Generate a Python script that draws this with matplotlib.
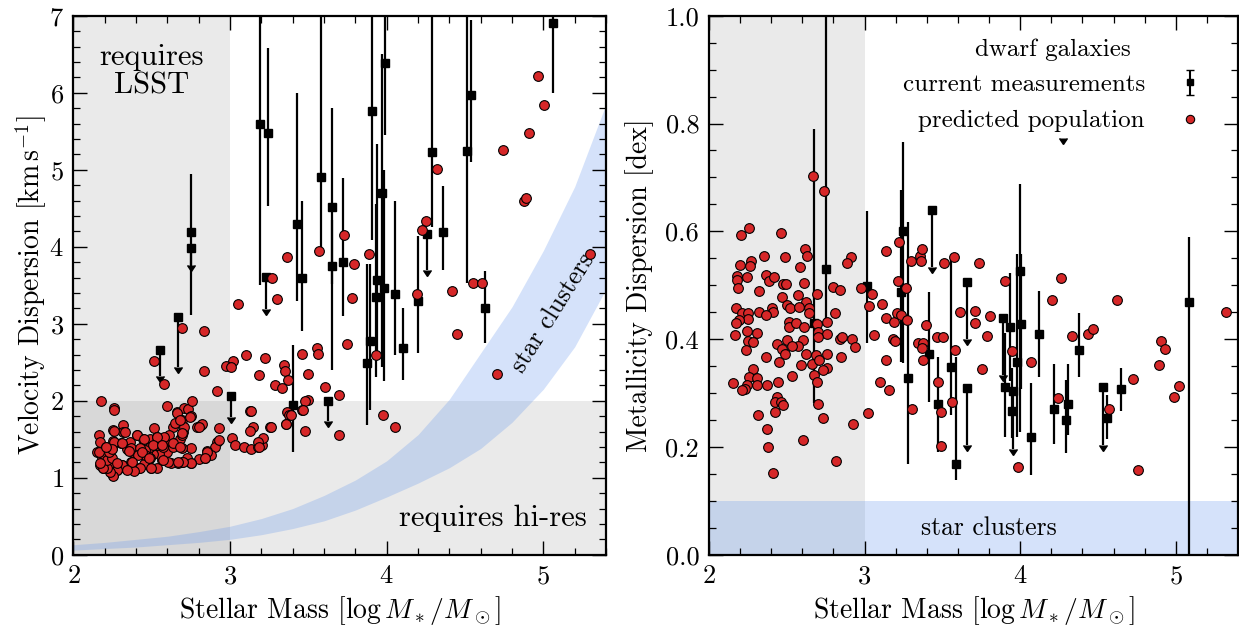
import numpy as np
import matplotlib
matplotlib.use("Agg")
import matplotlib.pyplot as plt

plt.rcParams['font.family'] = ['cmr10', 'DejaVu Serif']
plt.rcParams['mathtext.fontset'] = 'cm'
plt.rcParams['axes.formatter.use_mathtext'] = True
plt.rcParams['axes.unicode_minus'] = False

# ---- left panel: velocity dispersion measurements (x, y, err_lo, err_hi)
lv_x = [3.19, 3.24, 3.425, 3.46, 3.58, 3.65, 3.65, 3.72, 3.905, 3.99, 3.97, 3.94, 3.93,
        3.876, 3.893, 3.98, 4.05, 4.106, 4.20, 4.287, 4.36, 4.515, 4.54, 4.628, 5.064,
        2.75, 3.40]
lv_y = [5.60, 5.48, 4.30, 3.60, 4.90, 4.51, 3.75, 3.80, 5.76, 6.39, 4.70, 3.57, 3.35,
        2.49, 2.78, 3.46, 3.39, 2.69, 3.29, 5.23, 4.19, 5.24, 5.97, 3.20, 6.91,
        4.19, 1.95]
lv_lo = [2.10, 0.95, 1.00, 0.70, 0.96, 1.00, 1.35, 0.70, 1.67, 0.94, 2.26, 1.00, 1.04,
         0.81, 0.90, 1.20, 0.80, 0.42, 0.67, 0.97, 0.49, 1.71, 0.87, 0.45, 0.91,
         1.08, 0.61]
lv_hi = [2.10, 1.10, 1.69, 0.99, 2.30, 1.29, 0.60, 1.09, 1.67, 0.94, 1.80, 1.77, 1.20,
         1.29, 1.00, 1.54, 1.20, 0.51, 0.85, 1.90, 0.60, 1.90, 0.97, 0.49, 0.50,
         0.76, 0.77]
# upper limits (x, y, arrow length)
lvl_x = [2.75, 2.55, 2.67, 3.227, 3.008, 3.623, 4.26]
lvl_y = [3.98, 2.66, 3.09, 3.61, 2.06, 2.00, 4.16]
lvl_len = [0.22, 0.34, 0.65, 0.42, 0.27, 0.27, 0.46]

# predicted population (left)
lp_x = [3.361, 3.568, 3.265, 3.053, 3.297, 3.793, 3.776, 2.691, 2.836, 3.744, 3.553, 3.559,
        3.457, 3.099, 3.223, 3.021, 2.972, 3.006, 2.514, 3.344, 3.351, 3.187, 3.50, 3.372,
        2.833, 2.58, 3.287, 3.334, 3.608, 2.919, 3.698, 3.495, 3.478, 3.457, 3.361, 3.378,
        3.127, 3.148, 3.127, 3.255, 3.357, 3.478, 3.698, 3.014, 3.033, 3.091, 3.131, 3.176,
        3.202, 3.212, 3.18, 3.725, 3.889, 3.932, 3.974, 4.055, 4.319, 4.249, 4.228, 4.191,
        4.419, 4.451, 4.553, 4.606, 4.707, 4.741, 4.909, 5.002, 4.968, 4.875, 4.89, 5.298,
        2.176, 2.259, 2.261, 2.595, 2.659, 2.708, 2.733, 2.755, 2.75, 2.691, 2.633, 2.648,
        2.514, 2.318, 2.318, 2.254, 2.165, 2.169, 2.152, 2.18, 2.169, 2.186, 2.208, 2.244,
        2.25, 2.201, 2.237, 2.244, 2.254, 2.28, 2.308, 2.303, 2.361, 2.365, 2.403, 2.446,
        2.488, 2.531, 2.574, 2.62, 2.68, 2.691, 2.697, 2.706, 2.787, 2.814, 2.931, 2.914,
        2.904, 2.85, 2.878, 2.84, 2.804, 2.75, 2.75, 2.727, 2.695, 2.665, 2.62, 2.606,
        2.6, 2.563, 2.548, 2.51, 2.488, 2.493, 2.531, 2.45, 2.42, 2.382, 2.365, 2.314,
        2.429, 2.467, 2.382, 2.34, 2.531, 2.488, 2.457, 2.612, 2.574, 2.638, 2.691, 2.578,
        2.66, 2.68, 2.746, 2.82, 2.80, 2.326, 2.26, 2.405, 2.448, 2.533, 2.635, 2.693,
        2.256, 2.309, 2.367, 2.426, 2.507, 2.565, 2.678, 2.927, 2.853, 2.842, 2.753, 2.70,
        2.667, 2.569, 2.458, 2.41, 2.352, 2.437, 2.48, 2.495, 2.426, 2.384, 2.373, 2.309,
        2.277, 2.252, 2.235, 2.213, 2.19, 2.203, 2.213, 2.245, 2.277, 2.16, 2.224, 2.245,
        2.209, 2.341, 2.17, 3.136, 3.262, 3.36, 3.386, 3.463, 3.183]
lp_y = [3.87, 3.94, 3.60, 3.26, 3.32, 3.78, 3.34, 2.94, 2.91, 2.73, 2.69, 2.61,
        2.61, 2.59, 2.55, 2.52, 2.45, 2.44, 2.52, 2.47, 2.38, 2.34, 2.35, 2.27,
        2.38, 2.22, 2.20, 2.16, 2.18, 2.13, 2.08, 2.01, 1.99, 1.88, 1.85, 1.81,
        1.87, 1.66, 1.61, 1.66, 1.70, 1.61, 1.55, 1.51, 1.43, 1.40, 1.37, 1.40,
        1.42, 1.51, 1.46, 4.15, 3.90, 2.59, 1.81, 1.66, 5.01, 4.33, 4.22, 3.39,
        3.42, 2.87, 3.53, 3.53, 2.35, 5.26, 5.48, 5.84, 6.22, 4.60, 4.63, 3.90,
        2.00, 1.90, 1.88, 1.93, 1.85, 1.90, 1.89, 1.99, 1.80, 1.75, 1.66, 1.71,
        1.65, 1.68, 1.60, 1.62, 1.55, 1.46, 1.34, 1.27, 1.17, 1.12, 1.40, 1.38,
        1.48, 1.32, 1.25, 1.17, 1.04, 1.10, 1.17, 1.45, 1.46, 1.36, 1.55, 1.50,
        1.50, 1.53, 1.48, 1.46, 1.50, 1.56, 1.60, 1.66, 1.66, 1.69, 1.64, 1.47,
        1.40, 1.35, 1.29, 1.25, 1.24, 1.38, 1.19, 1.25, 1.20, 1.19, 1.19, 1.21,
        1.33, 1.23, 1.31, 1.31, 1.25, 1.12, 1.12, 1.18, 1.12, 1.10, 1.21, 1.14,
        1.33, 1.34, 1.34, 1.37, 1.42, 1.40, 1.36, 1.55, 1.40, 1.40, 1.39, 1.53,
        1.84, 1.75, 1.79, 1.70, 1.66, 1.59, 1.61, 1.55, 1.50, 1.53, 1.45, 1.58,
        1.47, 1.45, 1.38, 1.39, 1.42, 1.42, 1.40, 1.49, 1.34, 1.25, 1.19, 1.20,
        1.20, 1.23, 1.30, 1.29, 1.35, 1.34, 1.26, 1.12, 1.12, 1.09, 1.21, 1.16,
        1.10, 1.02, 1.08, 1.12, 1.12, 1.28, 1.23, 1.25, 1.19, 1.34, 1.34, 1.37,
        1.40, 1.10, 1.19, 1.87, 1.66, 1.70, 1.81, 1.88, 1.40]

# star cluster band (left)
band_x = [2.0, 2.2, 2.4, 2.6, 2.8, 3.0, 3.2, 3.4, 3.6, 3.8, 4.0, 4.2, 4.4, 4.6,
          4.8, 5.0, 5.2, 5.4]
band_lo = [0.06, 0.08, 0.10, 0.13, 0.16, 0.20, 0.26, 0.34, 0.44, 0.58, 0.75, 0.93,
           1.13, 1.38, 1.72, 2.15, 2.70, 3.45]
band_hi = [0.13, 0.16, 0.20, 0.24, 0.30, 0.37, 0.47, 0.60, 0.77, 0.97, 1.22, 1.56,
           2.02, 2.62, 3.22, 3.95, 4.78, 5.85]

# ---- right panel: metallicity dispersion measurements
rz_x = [2.675, 2.752, 3.013, 3.245, 3.234, 3.277, 3.412, 3.474, 3.555, 3.587, 3.934,
        3.902, 3.947, 3.999, 4.003, 3.977, 4.067, 4.121, 4.217, 4.294, 4.305, 4.378,
        4.56, 4.646, 5.087]
rz_y = [0.429, 0.530, 0.498, 0.601, 0.487, 0.328, 0.372, 0.279, 0.349, 0.169, 0.423,
        0.312, 0.267, 0.527, 0.428, 0.358, 0.219, 0.409, 0.271, 0.250, 0.280, 0.379,
        0.254, 0.307, 0.469]
rz_lo = [0.148, 0.092, 0.105, 0.245, 0.13, 0.159, 0.088, 0.088, 0.09, 0.03, 0.10,
         0.093, 0.05, 0.30, 0.12, 0.139, 0.071, 0.08, 0.066, 0.062, 0.058, 0.05,
         0.04, 0.04, 0.48]
rz_hi = [0.36, 0.60, 0.14, 0.165, 0.19, 0.29, 0.116, 0.088, 0.204, 0.198, 0.10,
         0.10, 0.08, 0.16, 0.13, 0.20, 0.10, 0.08, 0.082, 0.074, 0.074, 0.07,
         0.042, 0.04, 0.12]
rzl_x = [3.435, 3.66, 3.656, 3.887, 3.951, 4.534]
rzl_y = [0.639, 0.506, 0.310, 0.440, 0.304, 0.311]
rzl_len = [0.105, 0.105, 0.106, 0.107, 0.107, 0.108]
# lone limit caret
rzc_x = [4.273]
rzc_y = [0.762]

rp_x = [2.671, 2.741, 2.206, 2.259, 2.463, 2.617, 2.628, 2.353, 2.488, 2.268, 2.263, 2.2,
        2.91, 2.885, 2.585, 2.178, 2.182, 2.242, 2.366, 2.383, 2.418, 2.184, 2.478, 2.495,
        2.613, 2.795, 2.842, 2.977, 2.323, 2.467, 2.574, 2.696, 2.623, 2.645, 2.645, 2.174,
        2.403, 2.409, 2.499, 2.52, 2.58, 2.21, 2.253, 2.253, 2.321, 2.366, 2.19, 2.174,
        2.516, 2.516, 2.557, 2.613, 2.692, 2.756, 2.81, 2.246, 2.31, 2.167, 2.703, 2.758,
        2.703, 2.842, 2.852, 2.917, 2.938, 3.06, 2.253, 2.281, 2.238, 2.503, 2.606, 2.57,
        2.536, 2.435, 2.467, 2.488, 2.45, 2.366, 2.623, 2.66, 2.688, 2.707, 2.756, 2.756,
        2.735, 2.848, 2.591, 2.531, 2.285, 2.259, 2.306, 2.311, 2.246, 2.231, 2.21, 2.156,
        2.373, 2.445, 2.675, 2.696, 3.099, 3.159, 2.435, 2.424, 2.463, 2.478, 2.703, 2.317,
        2.422, 2.371, 2.73, 2.928, 3.024, 2.381, 2.602, 2.409, 2.816, 3.305, 3.136, 3.185,
        3.196, 3.028, 3.045, 3.11, 3.135, 3.189, 3.21, 3.234, 3.27, 3.135, 3.221, 3.217,
        3.264, 3.296, 3.345, 3.373, 3.367, 3.377, 3.392, 3.356, 3.36, 3.367, 3.513, 3.467,
        3.506, 3.47, 3.489, 3.491, 3.564, 3.574, 3.581, 3.613, 3.71, 3.71, 3.735, 3.806,
        3.785, 3.757, 3.902, 3.945, 3.988, 4.067, 4.206, 4.262, 4.243, 4.33, 4.436, 4.47,
        4.57, 4.62, 4.723, 4.759, 4.905, 4.931, 4.892, 5.023, 4.988, 5.321]
rp_y = [0.703, 0.675, 0.594, 0.607, 0.597, 0.568, 0.555, 0.555, 0.553, 0.544, 0.536, 0.537,
        0.553, 0.542, 0.533, 0.518, 0.510, 0.515, 0.519, 0.508, 0.515, 0.495, 0.503, 0.503,
        0.505, 0.497, 0.491, 0.495, 0.489, 0.479, 0.481, 0.483, 0.468, 0.457, 0.449, 0.457,
        0.457, 0.451, 0.463, 0.457, 0.460, 0.449, 0.448, 0.438, 0.450, 0.445, 0.435, 0.429,
        0.432, 0.422, 0.430, 0.422, 0.428, 0.432, 0.449, 0.415, 0.411, 0.408, 0.414, 0.409,
        0.403, 0.400, 0.403, 0.401, 0.386, 0.408, 0.397, 0.395, 0.380, 0.398, 0.398, 0.387,
        0.387, 0.391, 0.381, 0.373, 0.358, 0.366, 0.372, 0.354, 0.370, 0.361, 0.372, 0.346,
        0.343, 0.367, 0.352, 0.332, 0.344, 0.329, 0.327, 0.315, 0.315, 0.307, 0.306, 0.318,
        0.314, 0.320, 0.333, 0.321, 0.321, 0.306, 0.292, 0.283, 0.283, 0.277, 0.279, 0.259,
        0.264, 0.233, 0.253, 0.242, 0.262, 0.199, 0.213, 0.151, 0.174, 0.271, 0.361, 0.401,
        0.397, 0.461, 0.484, 0.466, 0.440, 0.432, 0.448, 0.445, 0.435, 0.564, 0.581, 0.508,
        0.494, 0.545, 0.393, 0.392, 0.384, 0.362, 0.426, 0.554, 0.544, 0.568, 0.542, 0.404,
        0.404, 0.321, 0.265, 0.202, 0.283, 0.553, 0.380, 0.451, 0.453, 0.429, 0.541, 0.443,
        0.406, 0.345, 0.508, 0.378, 0.163, 0.358, 0.472, 0.514, 0.291, 0.405, 0.409, 0.419,
        0.271, 0.472, 0.326, 0.158, 0.397, 0.382, 0.352, 0.313, 0.292, 0.450]

red = '#d62728'
gray_alpha = 0.16
blue = '#6495ED'

fig = plt.figure(figsize=(12.39, 6.28), dpi=100)
ax1 = fig.add_axes([0.0593, 0.1167, 0.4298, 0.8583])
ax2 = fig.add_axes([0.5722, 0.1167, 0.4270, 0.8583])

def style(ax):
    ax.set_xlim(2, 5.4)
    ax.xaxis.set_major_locator(plt.MultipleLocator(1))
    ax.xaxis.set_minor_locator(plt.MultipleLocator(0.2))
    ax.tick_params(which='both', direction='in', top=True, right=True, labelsize=19, pad=7)
    ax.tick_params(which='major', length=10, width=1.0)
    ax.tick_params(which='minor', length=5, width=0.9)
    for s in ax.spines.values():
        s.set_linewidth(1.6)
    ax.set_xlabel(r'Stellar Mass [$\log M_*/M_\odot$]', fontsize=20, labelpad=4)

# ---------------- left
ax1.axvspan(2, 3, color='gray', alpha=gray_alpha, lw=0, zorder=0)
ax1.axhspan(0, 2, color='gray', alpha=gray_alpha, lw=0, zorder=0)
ax1.fill_between(band_x, band_lo, band_hi, color=blue, alpha=0.27, lw=0, zorder=1)
ax1.errorbar(lv_x, lv_y, yerr=[lv_lo, lv_hi], fmt='s', color='k', ms=6, elinewidth=1.6,
             capsize=0, zorder=3)
ax1.errorbar(lvl_x, lvl_y, yerr=lvl_len, uplims=True, fmt='s', color='k', ms=6,
             elinewidth=1.6, capsize=0, zorder=3)
ax1.plot(lp_x, lp_y, 'o', mfc=red, mec='k', mew=0.8, ms=7, zorder=4)
ax1.text(2.5, 6.28, 'requires\nLSST', ha='center', va='center', fontsize=22, linespacing=1.05)
ax1.text(5.28, 0.47, 'requires hi-res', ha='right', va='center', fontsize=22)
ax1.text(5.06, 3.14, 'star clusters', ha='center', va='center', rotation=58,
         rotation_mode='anchor', fontsize=18.5)
style(ax1)
ax1.set_ylim(0, 7)
ax1.yaxis.set_major_locator(plt.MultipleLocator(1))
ax1.yaxis.set_minor_locator(plt.MultipleLocator(0.2))
ax1.set_ylabel(r'Velocity Dispersion [km$\,$s$^{-1}$]', fontsize=20, labelpad=0)

# ---------------- right
ax2.axvspan(2, 3, color='gray', alpha=gray_alpha, lw=0, zorder=0)
ax2.axhspan(0, 0.1, color=blue, alpha=0.27, lw=0, zorder=1)
ax2.errorbar(rz_x, rz_y, yerr=[rz_lo, rz_hi], fmt='s', color='k', ms=6, elinewidth=1.6,
             capsize=0, zorder=3)
ax2.errorbar(rzl_x, rzl_y, yerr=rzl_len, uplims=True, fmt='s', color='k', ms=6,
             elinewidth=1.6, capsize=0, zorder=3)
ax2.plot(rzc_x, rzc_y, marker=7, color='k', ms=6, ls='none', zorder=3)
ax2.plot(rp_x, rp_y, 'o', mfc=red, mec='k', mew=0.8, ms=7, zorder=4)
ax2.text(3.8, 0.05, 'star clusters', ha='center', va='center', fontsize=18.5)
style(ax2)
ax2.set_ylim(0, 1)
ax2.yaxis.set_major_locator(plt.MultipleLocator(0.2))
ax2.yaxis.set_minor_locator(plt.MultipleLocator(0.05))
ax2.yaxis.set_major_formatter(plt.FormatStrFormatter('%.1f'))
ax2.set_ylabel('Metallicity Dispersion [dex]', fontsize=20, labelpad=8)

# legend handles
h_meas = ax2.errorbar([np.nan], [np.nan], yerr=[0.1], fmt='s', color='k', ms=5,
                      elinewidth=1.5, capsize=3)
h_pred, = ax2.plot([np.nan], [np.nan], 'o', mfc=red, mec='k', mew=0.8, ms=6)
leg = ax2.legend([h_meas, h_pred], ['current measurements', 'predicted population'],
                 title='dwarf galaxies', loc='upper right', markerfirst=False,
                 frameon=False, fontsize=18, title_fontsize=18, handlelength=1.0,
                 handletextpad=1.3, bbox_to_anchor=(0.975, 0.999),
                 labelspacing=0.55)
leg._legend_box.sep = 9

fig.savefig('out.png', dpi=100)
